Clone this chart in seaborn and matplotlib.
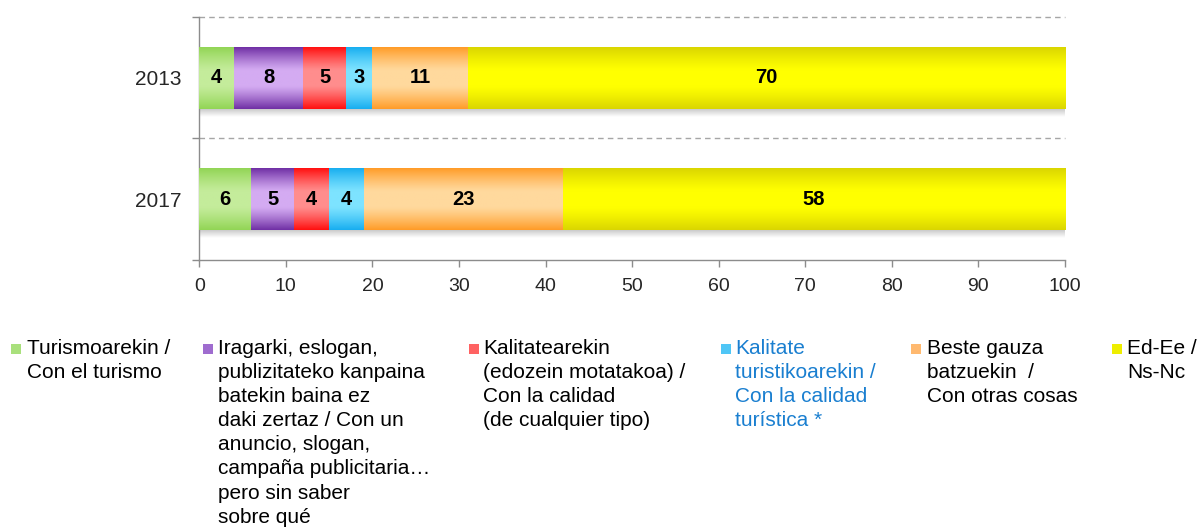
import numpy as np
import pandas as pd
import matplotlib
matplotlib.use("Agg")
import matplotlib.pyplot as plt
from matplotlib.patches import Rectangle
from matplotlib.colors import to_rgb
import seaborn as sns

# data
years = ["2013", "2017"]
categories = [
    "Turismoarekin /\nCon el turismo",
    "Iragarki, eslogan,\npublizitateko kanpaina\nbatekin baina ez\ndaki zertaz / Con un\nanuncio, slogan,\ncampaña publicitaria…\npero sin saber\nsobre qué",
    "Kalitatearekin\n(edozein motatakoa) /\nCon la calidad\n(de cualquier tipo)",
    "Kalitate\nturistikoarekin /\nCon la calidad\nturística *",
    "Beste gauza\nbatzuekin  /\nCon otras cosas",
    "Ed-Ee /\nNs-Nc",
]
values_2013 = [4, 8, 5, 3, 11, 70]
values_2017 = [6, 5, 4, 4, 23, 58]

# (edge colour, middle colour) for the shaded bars
edge_cols = ["#92d555", "#7030a5", "#ff1010", "#18aef0", "#ff9c28", "#dad600"]
mid_cols = ["#c4ec9b", "#d4abf2", "#ff8d8d", "#7de3ff", "#ffd99d", "#ffff00"]
legend_cols = ["#a9e07c", "#9f6ccf", "#ff6262", "#4fc6f6", "#ffb96f", "#eeee00"]
text_cols = ["black", "black", "black", "#1a7fd0", "black", "black"]

df = pd.DataFrame({"year": years})
vals = np.array([values_2013, values_2017], dtype=float)
cum = np.cumsum(vals, axis=1)
for i in range(len(categories)):
    df[f"cum{i}"] = cum[:, i]

sns.set_style("white")
plt.rcParams["font.family"] = ["Liberation Sans", "DejaVu Sans"]

fig = plt.figure(figsize=(11.99, 5.28), dpi=100)
ax = fig.add_axes([0.1662, 0.5076, 0.8882 - 0.1662, 0.9678 - 0.5076])

bar_h = 0.51
# stacked bars: draw cumulative totals from the largest down
for i in reversed(range(len(categories))):
    sns.barplot(data=df, x=f"cum{i}", y="year", order=years, orient="h",
                color=edge_cols[i], width=bar_h, saturation=1, ax=ax,
                edgecolor="none", linewidth=0)

# vertical shading on each segment + soft shadow below each bar
s = np.linspace(0, 1, 120)
d = np.abs(s - 0.5) * 2
w = np.clip((d - 0.25) / 0.75, 0, 1) ** 1.2
for r, yr in enumerate(years):
    left = 0
    for i, v in enumerate(vals[r]):
        e = np.array(to_rgb(edge_cols[i]))
        m = np.array(to_rgb(mid_cols[i]))
        img = (m[None, :] * (1 - w[:, None]) + e[None, :] * w[:, None])[:, None, :]
        ax.imshow(img, extent=(left, left + v, r + bar_h / 2, r - bar_h / 2),
                  origin="upper", aspect="auto", zorder=3, interpolation="bilinear")
        xc = (left + min(left + v, 100)) / 2
        ax.text(xc, r, f"{int(v)}", ha="center", va="center", fontsize=14.5,
                fontweight="bold", color="black", zorder=5)
        left += v
    sh = np.zeros((20, 1, 4))
    sh[:, 0, :3] = 0.55
    sh[:, 0, 3] = np.linspace(0.45, 0, 20)
    ax.imshow(sh, extent=(0, min(left, 100), r + bar_h / 2 + 0.065, r + bar_h / 2),
              origin="upper", aspect="auto", zorder=2, interpolation="bilinear")

ax.set_xlim(0, 100)
ax.set_ylim(1.5, -0.5)

grey = "#8c8c8c"
for yb in [-0.5, 0.5]:
    ax.axhline(yb, color="#a6a6a6", lw=1, dashes=(4, 3), clip_on=False, zorder=1)

sns.despine(ax=ax, top=True, right=True)
for sp in ["left", "bottom"]:
    ax.spines[sp].set_color(grey)
    ax.spines[sp].set_linewidth(1)

ax.set_xticks(np.arange(0, 101, 10))
ax.tick_params(axis="x", length=5, color=grey, width=1, labelsize=14, pad=8,
               direction="out", bottom=True)
ax.set_yticks([0, 1])
ax.set_yticklabels(years)
ax.set_yticks([-0.5, 0.5, 1.5], minor=True)
ax.tick_params(axis="y", which="major", length=0, labelsize=15, pad=13)
ax.tick_params(axis="y", which="minor", length=5, color=grey, width=1,
               direction="out", left=True)
ax.set_xlabel("")
ax.set_ylabel("")

# legend laid out in fixed columns like the original
W, H = 1199, 528
marker_x = [11, 203, 469, 721, 911, 1112]
text_x = [27, 218, 483, 735, 927, 1127]
for i, lab in enumerate(categories):
    fig.patches.append(Rectangle((marker_x[i] / W, 1 - 354 / H), 10 / W, 10 / H,
                                 transform=fig.transFigure, facecolor=legend_cols[i],
                                 edgecolor="none"))
    fig.text(text_x[i] / W, 1 - 339 / H, lab, ha="left", va="top", fontsize=15,
             color=text_cols[i], linespacing=1.34)

fig.savefig("out.png", dpi=100)
